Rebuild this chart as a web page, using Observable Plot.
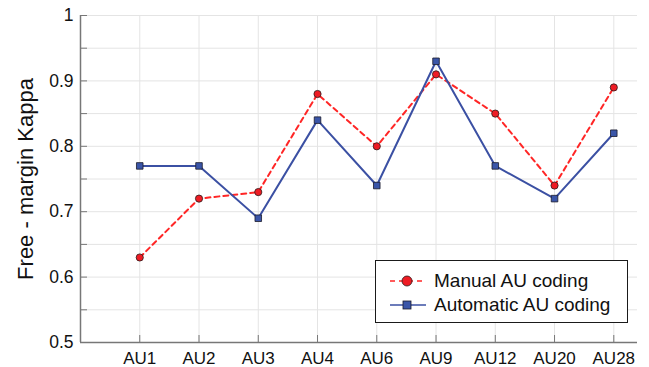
<!DOCTYPE html>
<html>
<head>
<meta charset="utf-8">
<script src="https://cdn.jsdelivr.net/npm/d3@7"></script>
<script src="https://cdn.jsdelivr.net/npm/@observablehq/plot@0.6"></script>
<style>
  html, body { margin: 0; padding: 0; background: #fff; }
  #wrap { position: relative; width: 649px; height: 367px; font-family: "Liberation Sans", Arial, Helvetica, sans-serif; }
  #legend { position: absolute; left: 375px; top: 260px; width: 251px; height: 61px; border: 1px solid #1a1a1a; background: #fff; }
  .row { position: absolute; left: 0; height: 24px; display: flex; align-items: center; }
  .row svg { margin-left: 14px; }
  .row span { margin-left: 8px; font-size: 19px; color: #111; }
</style>
</head>
<body>
<div id="wrap"></div>
<script>
const categories = ["AU1", "AU2", "AU3", "AU4", "AU6", "AU9", "AU12", "AU20", "AU28"];
const manual = [0.63, 0.72, 0.73, 0.88, 0.80, 0.91, 0.85, 0.74, 0.89];
const automatic = [0.77, 0.77, 0.69, 0.84, 0.74, 0.93, 0.77, 0.72, 0.82];
const yTickLabels = [0.5, 0.6, 0.7, 0.8, 0.9, 1];
const yGrid = [0.5, 0.55, 0.6, 0.65, 0.7, 0.75, 0.8, 0.85, 0.9, 0.95, 1];
const seriesNames = ["Manual AU coding", "Automatic AU coding"];
const yLabel = "Free - margin Kappa";

const idx = categories.map((_, i) => i + 1);
const manualData = categories.map((c, i) => ({x: i + 1, y: manual[i]}));
const autoData = categories.map((c, i) => ({x: i + 1, y: automatic[i]}));

const red = "#ff2626";
const redFill = "#ee1c24";
const blue = "#3b50a3";
const blueFill = "#3a55a8";
const font = '"Liberation Sans", Arial, Helvetica, sans-serif';

const plot = Plot.plot({
  width: 649,
  height: 367,
  marginLeft: 80,
  marginTop: 15,
  marginBottom: 25,
  marginRight: 12,
  style: {fontFamily: font, background: "#fff", overflow: "visible"},
  x: {domain: [0, 9.4], axis: null},
  y: {domain: [0.5, 1], axis: null},
  marks: [
    Plot.gridX(idx, {stroke: "#e4e4e4", strokeOpacity: 1, strokeWidth: 1}),
    Plot.gridY(yGrid, {stroke: "#e4e4e4", strokeOpacity: 1, strokeWidth: 1}),
    // inward ticks
    Plot.axisY(yGrid, {tickSize: -7, stroke: "#777", strokeWidth: 1, text: null, label: null}),
    Plot.axisX(idx, {tickSize: -7, stroke: "#777", strokeWidth: 1, text: null, label: null}),
    // tick labels
    Plot.axisY(yTickLabels, {tickSize: 0, tickPadding: 7, tickFormat: d => String(d), fontSize: 17.5, fill: "#111", label: null}),
    Plot.axisX(idx, {tickSize: 0, tickPadding: 9, tickFormat: d => categories[d - 1], fontSize: 17, fill: "#111", label: null}),
    Plot.ruleX([0], {stroke: "#777", strokeWidth: 1.5}),
    Plot.ruleY([0.5], {stroke: "#777", strokeWidth: 1.5}),
    Plot.text([yLabel], {frameAnchor: "left", textAnchor: "middle", rotate: -90, dx: -55, fontSize: 22, fill: "#111"}),
    Plot.line(manualData, {x: "x", y: "y", stroke: red, strokeWidth: 2, strokeDasharray: "5,4"}),
    Plot.line(autoData, {x: "x", y: "y", stroke: blue, strokeWidth: 2}),
    Plot.dot(autoData, {x: "x", y: "y", symbol: "square", r: 3.7, fill: blueFill, stroke: "#1a1a2a", strokeWidth: 0.8}),
    Plot.dot(manualData, {x: "x", y: "y", r: 3.6, fill: redFill, stroke: "#2a1a1a", strokeWidth: 0.8})
  ]
});

const wrap = document.getElementById("wrap");
wrap.appendChild(plot);

const legend = document.createElement("div");
legend.id = "legend";
legend.innerHTML = `
  <div class="row" style="top:8px">
    <svg width="36" height="14"><line x1="0" y1="7" x2="36" y2="7" stroke="${red}" stroke-width="1.3" stroke-dasharray="5,4"/><circle cx="17" cy="7" r="5" fill="${redFill}" stroke="#2a1a1a" stroke-width="0.8"/></svg>
    <span>${seriesNames[0]}</span>
  </div>
  <div class="row" style="top:32px">
    <svg width="36" height="14"><line x1="0" y1="7" x2="36" y2="7" stroke="${blue}" stroke-width="1.3"/><rect x="13" y="3" width="8" height="8" fill="${blueFill}" stroke="#1a1a2a" stroke-width="0.8"/></svg>
    <span>${seriesNames[1]}</span>
  </div>`;
wrap.appendChild(legend);
</script>
</body>
</html>
